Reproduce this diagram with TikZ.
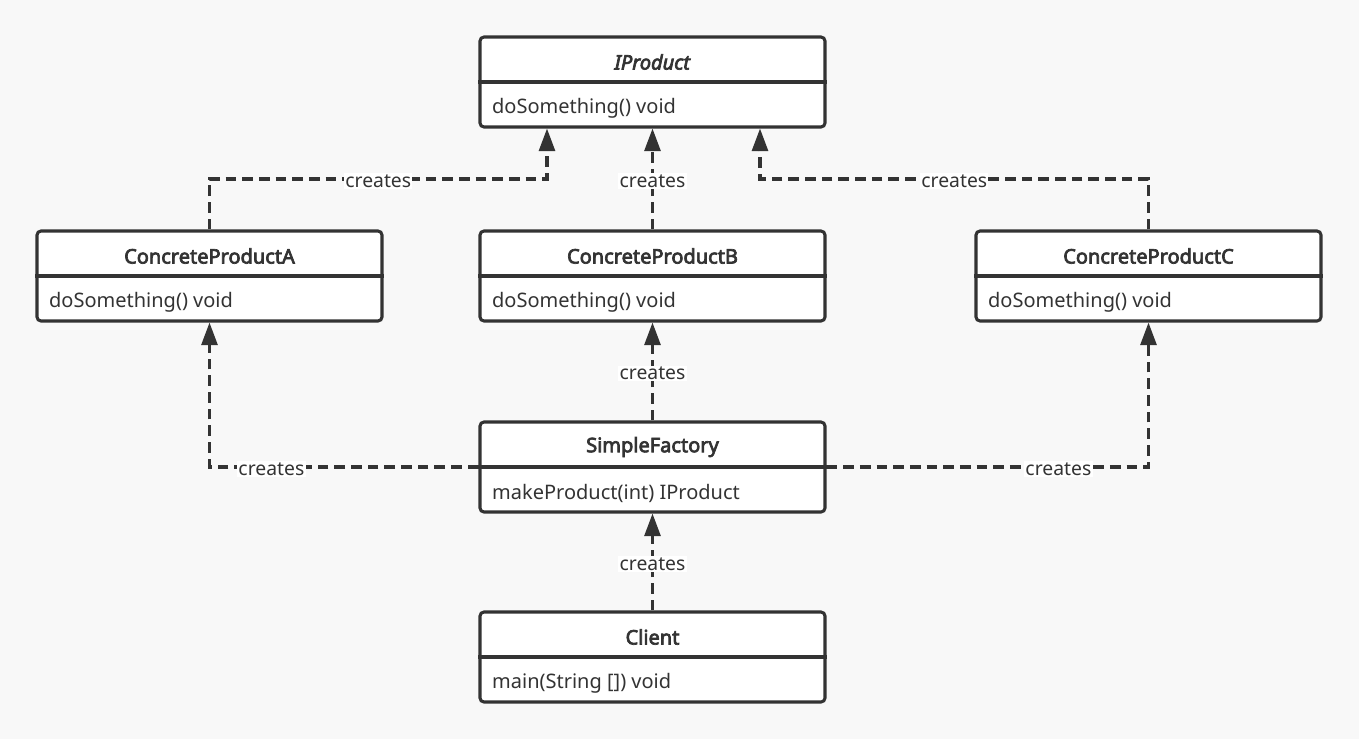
\documentclass[tikz,border=0pt]{standalone}
\usepackage{fontspec}
\setmainfont{Noto Sans}[BoldFont={Noto Sans}, BoldFeatures={FakeBold=3.5},
        BoldItalicFont={* Italic}, BoldItalicFeatures={FakeBold=3.5}]
\usetikzlibrary{arrows.meta}
\usetikzlibrary{calc}
\usetikzlibrary{positioning}
\definecolor{bgc}{HTML}{F8F8F8}
\definecolor{ink}{HTML}{333333}

\begin{document}
\begin{tikzpicture}[x=0.75pt,y=-0.75pt,
        classbox/.style={draw=ink, fill=white, line width=2.3pt, rounded corners=3pt,
                minimum width=258.75pt, minimum height=67.5pt, inner sep=0pt},
        classtitle/.style={font=\fontsize{15}{18}\selectfont\bfseries, text=ink},
        member/.style={font=\fontsize{15}{18}\selectfont, text=ink, anchor=west},
        dep/.style={draw=ink, line width=2.3pt, dash pattern=on 8pt off 4.5pt,
                -{Triangle[length=17pt,width=12pt]}},
        lbl/.style={fill=white, text=ink, font=\fontsize{14.5}{17}\selectfont, inner sep=1pt, yshift=-1.5pt}]
        \fill[bgc] (0,0) rectangle (1359,739);
        % classes
        \foreach \n/\x/\y/\t/\m in {ip/652.5/82/\textit{IProduct}/doSomething() void,
                pa/209.5/276/ConcreteProductA/doSomething() void,
                pb/652.5/276/ConcreteProductB/doSomething() void,
                pc/1148.5/276/ConcreteProductC/doSomething() void,
                sf/652.5/467/SimpleFactory/makeProduct(int) IProduct,
                cl/652.5/657/Client/main(String []) void}{
                \node[classbox] (\n) at (\x,\y) {};
                \draw[ink, line width=2.3pt] (\n.west)--(\n.east);
                \node[classtitle] (\n t) at ($(\n.center)+(0,-20)$) {\t};
                \node[member] (\n m) at ($(\n.west)+(9,26)$) {\m};
        }
        % bends
        \coordinate (ka) at (209.5,179);
        \coordinate (kia) at (547,179);
        \coordinate (kc) at (1148.5,179);
        \coordinate (kic) at (760,179);
        \coordinate (ja) at (209.5,467);
        \coordinate (jc) at (1148.5,467);
        % dependencies
        \draw[dep] (pa.north)--(ka)--node[lbl]{creates}(kia)--(ip.south -| kia);
        \draw[dep] (pb.north)--node[lbl]{creates}(ip.south);
        \draw[dep] (pc.north)--(kc)--node[lbl]{creates}(kic)--(ip.south -| kic);
        \draw[dep] (sf.north)--node[lbl]{creates}(pb.south);
        \draw[dep] (sf.west)--node[lbl, pos=0.77]{creates}(ja)--(pa.south);
        \draw[dep] (sf.east)--node[lbl, pos=0.72]{creates}(jc)--(pc.south);
        \draw[dep] (cl.north)--node[lbl]{creates}(sf.south);
\end{tikzpicture}
\end{document}
